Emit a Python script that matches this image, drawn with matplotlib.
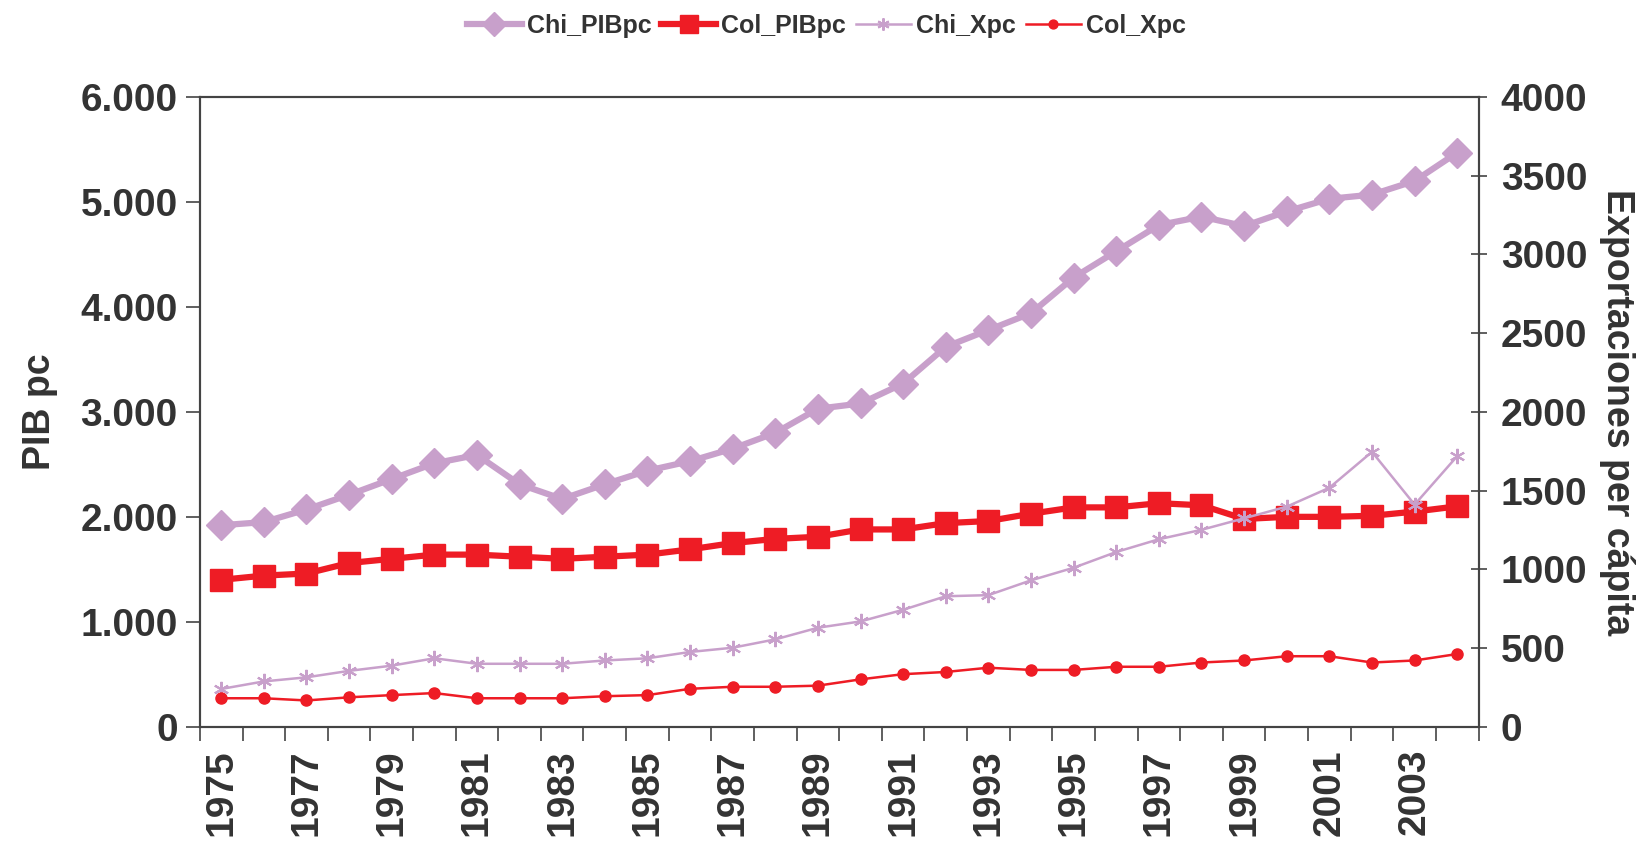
import numpy as np
import matplotlib.pyplot as plt
from matplotlib.ticker import FuncFormatter, FixedLocator

plt.rcParams['font.family'] = ['Liberation Sans', 'DejaVu Sans']
plt.rcParams['font.weight'] = 'bold'
plt.rcParams['axes.labelweight'] = 'bold'

years = list(range(1975, 2005))

chi_pib = [1920, 1950, 2070, 2210, 2360, 2510, 2590, 2310, 2170, 2310,
           2440, 2530, 2650, 2800, 3030, 3080, 3270, 3620, 3780, 3940,
           4280, 4530, 4780, 4860, 4770, 4910, 5030, 5070, 5200, 5470]
col_pib = [1400, 1440, 1460, 1560, 1600, 1640, 1640, 1620, 1600, 1620,
           1640, 1690, 1750, 1790, 1810, 1880, 1880, 1940, 1960, 2030,
           2090, 2090, 2130, 2110, 1980, 2000, 2000, 2010, 2050, 2100]
chi_x = [240, 288, 314, 355, 388, 435, 400, 400, 400, 421,
         435, 475, 502, 555, 629, 669, 743, 829, 836, 930,
         1010, 1110, 1191, 1251, 1324, 1398, 1518, 1746, 1411, 1719]
col_x = [181, 181, 167, 187, 201, 214, 181, 181, 181, 194,
         201, 241, 254, 254, 261, 301, 334, 348, 375, 361,
         361, 381, 381, 408, 421, 448, 448, 408, 421, 462]

purple = '#C8A0CB'
red = '#EE1C25'
txt = '#333333'

fig = plt.figure(figsize=(16.52, 8.51), dpi=100)
ax = fig.add_axes([0.121, 0.146, 0.774, 0.740])
ax2 = ax.twinx()

x = np.arange(len(years))
l1, = ax.plot(x, chi_pib, color=purple, lw=4.5, marker='D', ms=15, label='Chi_PIBpc')
l2, = ax.plot(x, col_pib, color=red, lw=4.5, marker='s', ms=16, label='Col_PIBpc')
l3, = ax2.plot(x, chi_x, color=purple, lw=1.8, marker=(6, 2, 0), ms=11, mew=1.5, label='Chi_Xpc')
l4, = ax2.plot(x, col_x, color=red, lw=1.8, marker='o', ms=8, label='Col_Xpc')

ax.set_xlim(-0.5, len(years) - 0.5)
ax.set_ylim(0, 6000)
ax2.set_ylim(0, 4000)
ax.set_yticks(np.arange(0, 6001, 1000))
ax2.set_yticks(np.arange(0, 4001, 500))
ax.yaxis.set_major_formatter(FuncFormatter(lambda v, p: f'{int(v):,}'.replace(',', '.')))

# ticks on category boundaries, labels every second year
ax.xaxis.set_major_locator(FixedLocator(np.arange(-0.5, len(years), 1)))
ax.set_xticklabels([])
ax.xaxis.set_minor_locator(FixedLocator(x[::2]))
ax.set_xticklabels([str(y) for y in years[::2]], minor=True, rotation=90)
ax.tick_params(axis='x', which='minor', length=0, pad=16, labelsize=28, labelcolor=txt)
ax.tick_params(axis='x', which='major', length=10, width=1.2, color='#444444', direction='out')

ax.tick_params(axis='y', length=10, width=1.2, color='#444444', labelsize=28, labelcolor=txt, pad=6)
ax2.tick_params(axis='y', length=12, width=1.2, color='#444444', direction='inout',
                labelsize=28, labelcolor=txt, pad=10)

for a in (ax, ax2):
    for s in a.spines.values():
        s.set_color('#444444')
        s.set_linewidth(1.5)

ax.set_ylabel('PIB pc', fontsize=27, color=txt, labelpad=16)
ax2.set_ylabel('Exportaciones per cápita', fontsize=27, color=txt, rotation=-90, labelpad=34)

fig.legend(handles=[l1, l2, l3, l4], loc='upper center', bbox_to_anchor=(0.5, 1.01), ncol=4,
           frameon=False, fontsize=18, handlelength=2.2, columnspacing=0.4, handletextpad=0.2,
           labelcolor=txt, markerscale=0.8)

fig.savefig('out.png', dpi=100)
